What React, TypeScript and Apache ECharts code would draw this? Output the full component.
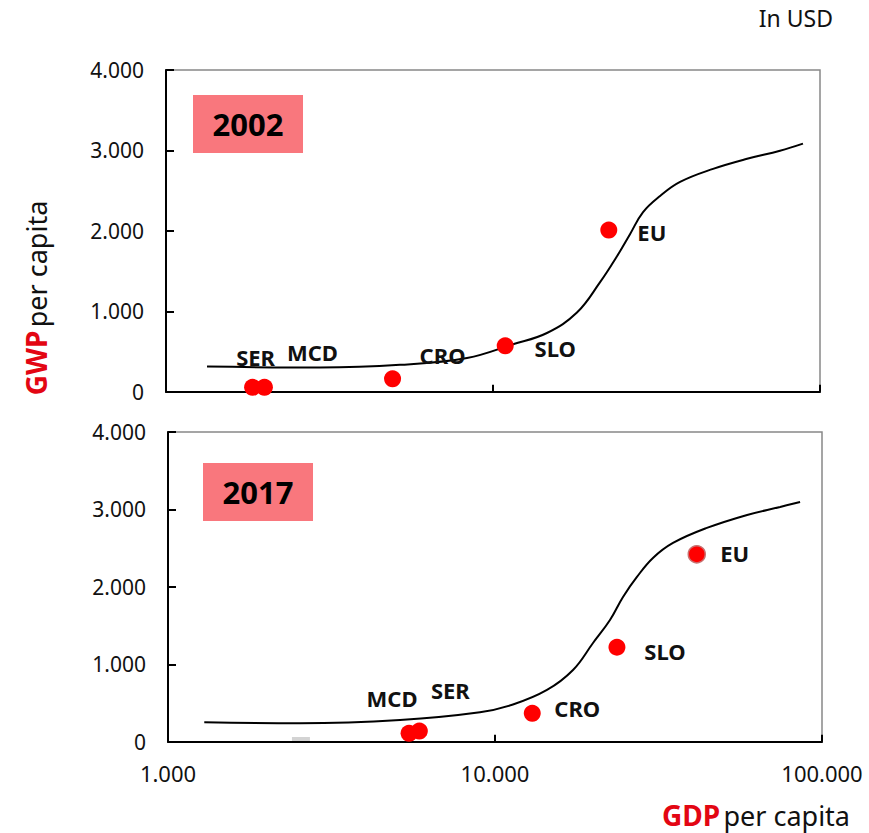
import React, { useEffect, useRef } from "react";
import * as echarts from "echarts";

// ---- Data ----
const names2002 = ["SER", "MCD", "CRO", "SLO", "EU"];
const gdp2002 = [1840, 2000, 4930, 10900, 22600];
const gwp2002 = [55, 55, 160, 570, 2010];

const names2017 = ["MCD", "SER", "CRO", "SLO", "EU"];
const gdp2017 = [5460, 5870, 13000, 23600, 41400];
const gwp2017 = [108, 138, 367, 1220, 2420];

const curveX2002 = [1335, 2958, 5195, 8328, 11510, 14620, 18060, 21230, 23940, 26240, 28770, 32430, 37330, 47100, 59840, 75460, 88700];
const curveY2002 = [312, 300, 334, 420, 590, 730, 984, 1359, 1684, 1959, 2234, 2434, 2609, 2771, 2896, 2996, 3084];

const curveX2017 = [1291, 2533, 5122, 8994, 11350, 14420, 17320, 19940, 22470, 24630, 27170, 30410, 35020, 44460, 59020, 74470, 85700];
const curveY2017 = [250, 238, 280, 380, 480, 668, 926, 1275, 1572, 1870, 2128, 2373, 2567, 2761, 2929, 3032, 3097];

const yTicks = [0, 1000, 2000, 3000, 4000];
const xTicks = [1000, 10000, 100000];

const labelOffsets2002: [number, number][] = [[3, -30], [48, -35], [50, -24], [50, 2], [43, 2]];
const labelOffsets2017: [number, number][] = [[-17, -35], [31, -41], [45, -5], [48, 4], [38, -1]];

const FONT = "'Noto Sans', 'Open Sans', sans-serif";
const RED = "#E30613";
const BOX = "#F9777D";

const fmt = (v: number) => String(Math.round(v)).replace(/\B(?=(\d{3})+(?!\d))/g, ".");

function scatterData(names: string[], xs: number[], ys: number[], offs: [number, number][], euBorder: boolean) {
  return names.map((n, i) => ({
    name: n,
    value: [xs[i], ys[i]],
    label: { offset: offs[i] },
    itemStyle: euBorder && n === "EU" ? { borderColor: "#c87070", borderWidth: 1.5 } : undefined,
  }));
}

export default function App() {
  const ref = useRef<HTMLDivElement>(null);
  useEffect(() => {
    if (!ref.current) return;
    const chart = echarts.init(ref.current, undefined, { renderer: "svg" });

    const xAxisBase = (showLabels: boolean, gridIndex: number) => ({
      type: "log" as const,
      logBase: 10,
      min: xTicks[0],
      max: xTicks[xTicks.length - 1],
      gridIndex,
      axisLine: { show: true, lineStyle: { color: "#000", width: 2 } },
      axisTick: { show: true, inside: true, length: 7, lineStyle: { color: "#000", width: 2 } },
      axisLabel: {
        show: showLabels,
        formatter: (v: number) => fmt(v),
        color: "#111",
        fontSize: 22,
        fontFamily: FONT,
        margin: 20,
      },
      splitLine: { show: false },
    });
    const yAxisBase = (gridIndex: number) => ({
      type: "value" as const,
      min: yTicks[0],
      max: yTicks[yTicks.length - 1],
      interval: 1000,
      gridIndex,
      axisLine: { show: true, lineStyle: { color: "#000", width: 2 } },
      axisTick: { show: true, inside: true, length: 8, lineStyle: { color: "#000", width: 2 } },
      axisLabel: {
        formatter: (v: number) => fmt(v),
        color: "#111",
        fontSize: 21,
        fontFamily: FONT,
        margin: 22,
      },
      splitLine: { show: false },
    });

    const scatterLabel = {
      show: true,
      position: "inside" as const,
      formatter: "{b}",
      color: "#111",
      fontWeight: "bold" as const,
      fontSize: 22,
      fontFamily: FONT,
    };

    const lineSeries = (idx: number, xs: number[], ys: number[]) => ({
      type: "line",
      xAxisIndex: idx,
      yAxisIndex: idx,
      smooth: 0.4,
      showSymbol: false,
      lineStyle: { color: "#000", width: 2 },
      data: xs.map((x, i) => [x, ys[i]]),
      z: 2,
    });

    chart.setOption({
      animation: false,
      backgroundColor: "#fff",
      grid: [
        { left: 166, top: 70, width: 654, height: 321.7, show: true, borderColor: "#888", borderWidth: 1.5, backgroundColor: "transparent" },
        { left: 168, top: 432, width: 654, height: 309.7, show: true, borderColor: "#888", borderWidth: 1.5, backgroundColor: "transparent" },
      ],
      xAxis: [xAxisBase(false, 0), xAxisBase(true, 1)],
      yAxis: [yAxisBase(0), yAxisBase(1)],
      series: [
        lineSeries(0, curveX2002, curveY2002),
        lineSeries(1, curveX2017, curveY2017),
        {
          type: "scatter",
          xAxisIndex: 0,
          yAxisIndex: 0,
          symbolSize: 17,
          itemStyle: { color: "#FF0000", opacity: 1 },
          label: scatterLabel,
          data: scatterData(names2002, gdp2002, gwp2002, labelOffsets2002, false),
          z: 3,
        },
        {
          type: "scatter",
          xAxisIndex: 1,
          yAxisIndex: 1,
          symbolSize: 17,
          itemStyle: { color: "#FF0000", opacity: 1 },
          label: scatterLabel,
          data: scatterData(names2017, gdp2017, gwp2017, labelOffsets2017, true),
          z: 3,
        },
        {
          type: "scatter",
          xAxisIndex: 1,
          yAxisIndex: 1,
          symbol: "rect",
          symbolSize: [18, 4],
          itemStyle: { color: "#c8c8c8" },
          data: [[2550, 35]],
          silent: true,
          z: 1,
        },
      ],
      graphic: [
        { type: "rect", shape: { x: 193, y: 95, width: 110, height: 58 }, style: { fill: BOX } },
        {
          type: "text",
          x: 248,
          y: 124,
          style: { text: "2002", fill: "#000", font: `bold 31px ${FONT}`, align: "center", verticalAlign: "middle" },
        },
        { type: "rect", shape: { x: 203, y: 463, width: 110, height: 58 }, style: { fill: BOX } },
        {
          type: "text",
          x: 258,
          y: 492,
          style: { text: "2017", fill: "#000", font: `bold 31px ${FONT}`, align: "center", verticalAlign: "middle" },
        },
        {
          type: "text",
          x: 833,
          y: 18,
          style: { text: "In USD", fill: "#111", font: `23px ${FONT}`, align: "right", verticalAlign: "middle" },
        },
        {
          type: "text",
          x: 850,
          y: 815,
          style: {
            text: "{a|GDP} {b|per capita}",
            align: "right",
            verticalAlign: "middle",
            rich: {
              a: { fill: RED, font: `bold 28px ${FONT}` },
              b: { fill: "#111", font: `27px ${FONT}` },
            },
          },
        },
        {
          type: "text",
          x: 36,
          y: 298,
          rotation: Math.PI / 2,
          style: {
            text: "{a|GWP} {b|per capita}",
            align: "center",
            verticalAlign: "middle",
            rich: {
              a: { fill: RED, font: `bold 28px ${FONT}` },
              b: { fill: "#111", font: `27px ${FONT}` },
            },
          },
        },
      ],
    });
    return () => chart.dispose();
  }, []);
  return <div ref={ref} style={{ position: "fixed", left: 0, top: 0, width: 869, height: 833 }} />;
}
